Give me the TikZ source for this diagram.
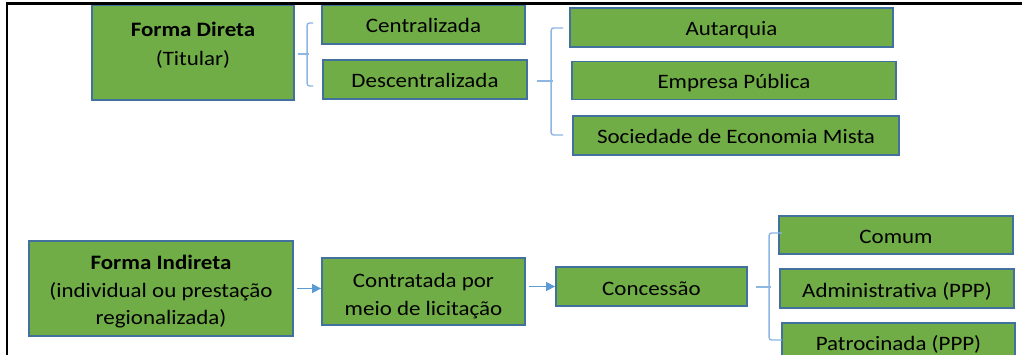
\documentclass[tikz,border=0pt]{standalone}
\usepackage{fontspec}
\setmainfont{Carlito}[FakeStretch=1.12]
\usetikzlibrary{calc,arrows.meta}
\definecolor{boxgreen}{HTML}{70AD47}
\definecolor{boxblue}{HTML}{41719C}
\definecolor{bracecol}{HTML}{8DB6E2}
\definecolor{arrcol}{HTML}{5B9BD5}
\newcommand{\fsz}{\fontsize{20.5}{27.5}\selectfont}
\newcommand{\mlines}[2]{\raisebox{#1}[\height][\depth]{\begin{tabular}{@{}c@{}}#2\end{tabular}}}
\begin{document}
\begin{tikzpicture}[x=1pt,y=-1pt,
  gbox/.style={draw=boxblue,fill=boxgreen,line width=1.8pt,inner sep=0pt,font=\fsz,align=center,text=black},
  one/.style={gbox,text height=17pt,text depth=0pt},
  bracket/.style={draw=bracecol,line width=1.4pt,rounded corners=2.5pt},
  arr/.style={draw=arrcol,line width=1.4pt,-{Triangle[length=9pt,width=9pt]}}]
\useasboundingbox (0,0) rectangle (1022,355);
\clip (0,0) rectangle (1022,355);
\fill[white] (0,0) rectangle (1022,355);

% upper group
\node[gbox,minimum width=202pt,minimum height=95pt,font=\fontsize{20.5}{29}\selectfont] (FD) at (193,52.5)
  {\mlines{7pt}{\textbf{Forma Direta}\\(Titular)}};
\node[one,minimum width=203pt,minimum height=39pt] (CE) at (423.5,24.5) {Centralizada};
\node[one,minimum width=204pt,minimum height=39pt] (DE) at (425,79.5) {Descentralizada};
\node[one,minimum width=323pt,minimum height=39pt] (AU) at (731.5,27.5) {Autarquia};
\node[one,minimum width=324pt,minimum height=38pt] (EP) at (734,80.5) {Empresa Pública};
\node[one,minimum width=326pt,minimum height=39pt] (SO) at (736,135.5) {Sociedade de Economia Mista};

% lower group
\node[gbox,minimum width=264pt,minimum height=95pt] (FI) at (161,288.5)
  {\mlines{-3pt}{\textbf{Forma Indireta}\\(individual ou prestação\\regionalizada)}};
\node[gbox,minimum width=203pt,minimum height=67pt] (CT) at (423.5,291.5)
  {\mlines{-4.5pt}{Contratada por\\meio de licitação}};
\node[one,minimum width=191pt,minimum height=39pt] (CO) at (651.5,286.5) {Concessão};
\node[one,minimum width=234pt,minimum height=38pt] (CM) at (896,235) {Comum};
\node[one,minimum width=234pt,minimum height=39pt] (AD) at (897,288.5) {Administrativa (PPP)};
\node[one,minimum width=233pt,minimum height=38pt] (PA) at (898.5,342) {Patrocinada (PPP)};

% bracket 1
\coordinate (b1t) at ($(CE.west)+(-8,-1.5)$);
\coordinate (b1b) at ($(DE.west)+(-9,6.5)$);
\coordinate (b1m) at ($(FD.east)+(3,1.5)$);
\draw[bracket] (b1t) -- ++(-6,0) |- (b1b);
\draw[bracket] (b1m) -- ++(11,0);

% bracket 2
\coordinate (b2t) at ($(AU.west)+(-6,0.5)$);
\coordinate (b2b) at ($(SO.west)+(-9,-0.5)$);
\coordinate (b2m) at ($(DE.east)+(9,1.5)$);
\draw[bracket] (b2t) -- ++(-12,0) |- (b2b);
\draw[bracket] (b2m) -- ++(16,0);

% bracket 3
\coordinate (b3t) at ($(CM.west)+(4,-2)$);
\coordinate (b3b) at ($(PA.west)+(1,-2)$);
\coordinate (b3m) at ($(CO.east)+(8,0.5)$);
\draw[bracket] (b3t) -- ++(-13,0) |- (b3b);
\draw[bracket] (b3m) -- ++(15,0);

% arrows
\draw[arr] ($(FI.east)+(3,0)$) -- (FI.east -| CT.west);
\draw[arr] ($(CO.west -| CT.east)+(3,0)$) -- (CO.west);

% frame
\draw[line width=2.4pt,line cap=rect] (7,360) -- (7,3.5) -- (1030,3.5);
\end{tikzpicture}
\end{document}
